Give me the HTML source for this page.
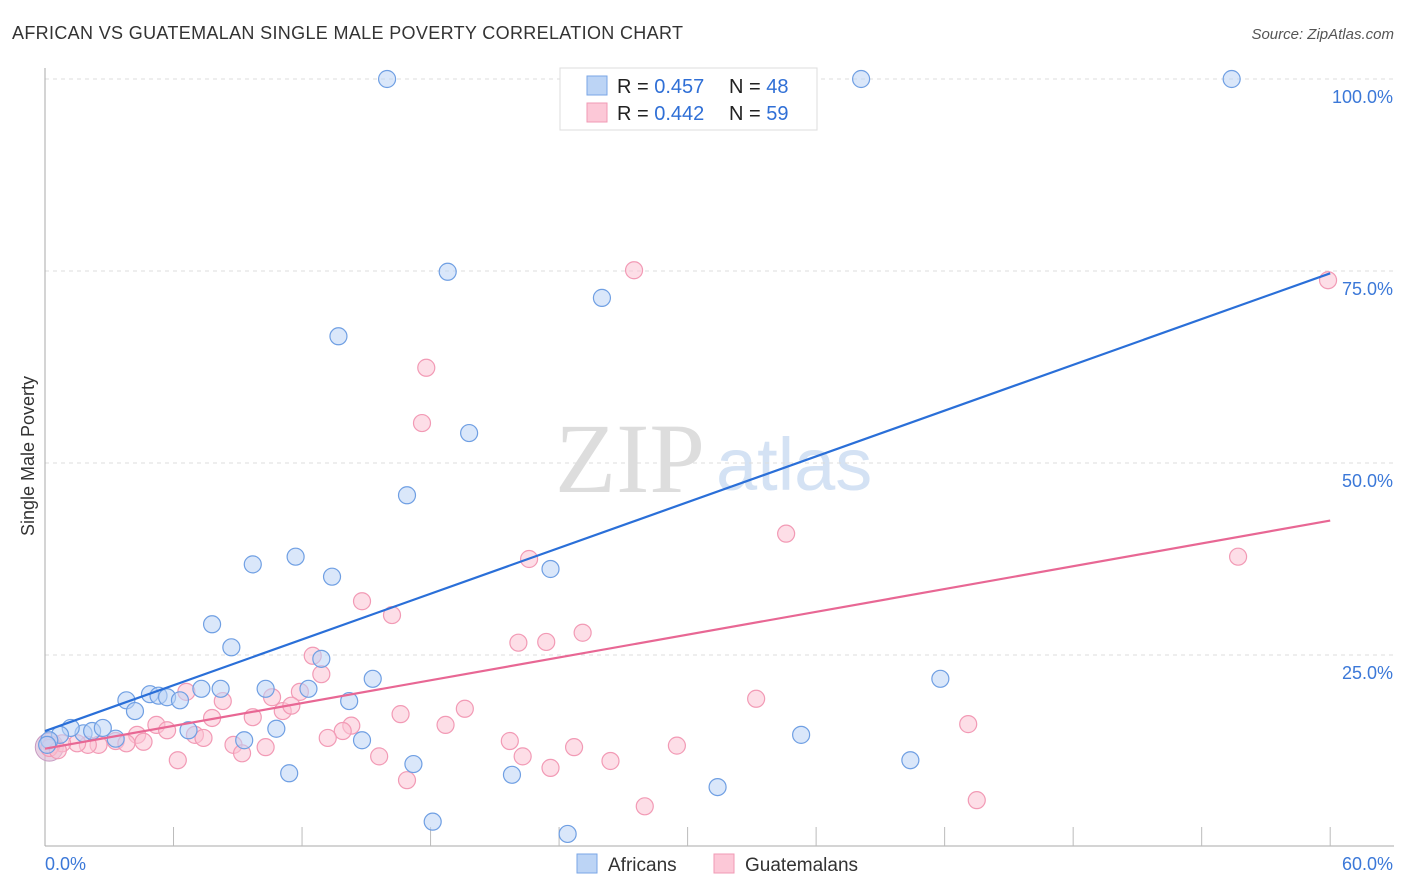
<!DOCTYPE html>
<html><head><meta charset="utf-8"><style>
body{margin:0;background:#fff;font-family:"Liberation Sans",sans-serif;}
svg{display:block}
</style></head><body>
<svg id="chart" width="1406" height="892" xmlns="http://www.w3.org/2000/svg">
<text x="12" y="39" font-size="18" fill="#333" textLength="671">AFRICAN VS GUATEMALAN SINGLE MALE POVERTY CORRELATION CHART</text>
<text x="1394" y="39" font-size="15" fill="#555" text-anchor="end" font-style="italic">Source: ZipAtlas.com</text>
<text x="555" y="492" font-size="100" fill="#ddd" font-family="Liberation Serif">ZIP</text>
<text x="716" y="490" font-size="74" fill="#d4e2f4">atlas</text>
<g id="grid"></g><g id="axes"></g><g id="pts"></g><g id="lines"></g>
<text transform="translate(34,456) rotate(-90)" font-size="18" fill="#333" text-anchor="middle">Single Male Poverty</text>
<g>
<rect x="560" y="68" width="257" height="62" fill="#fff" stroke="#ddd"/>
<rect x="587" y="76" width="20" height="19" fill="#bcd4f5" stroke="#7aa6e6"/>
<rect x="587" y="103" width="20" height="19" fill="#fcc8d7" stroke="#f09ab4"/>
<text x="617" y="93" font-size="20" fill="#222">R = <tspan fill="#2f6fd6">0.457</tspan><tspan x="729">N = </tspan><tspan fill="#2f6fd6">48</tspan></text>
<text x="617" y="120" font-size="20" fill="#222">R = <tspan fill="#2f6fd6">0.442</tspan><tspan x="729">N = </tspan><tspan fill="#2f6fd6">59</tspan></text>
</g>
<g>
<rect x="577" y="854" width="20" height="19" fill="#bcd4f5" stroke="#7aa6e6"/>
<text x="608" y="871" font-size="19" fill="#333">Africans</text>
<rect x="714" y="854" width="20" height="19" fill="#fcc8d7" stroke="#f09ab4"/>
<text x="745" y="871" font-size="19" fill="#333">Guatemalans</text>
</g>
</svg>
<script>
const yTicks=[25,50,75,100];
const yTickLabels=["25.0%","50.0%","75.0%","100.0%"];
const xTickLabels=["0.0%","60.0%"];
const blueX=[15.97,38.1,55.4,18.8,26.0,13.7,19.8,16.9,9.7,11.7,13.4,23.6,7.8,8.7,12.9,3.8,4.2,4.9,5.3,5.7,6.3,7.3,8.2,10.3,12.3,14.2,15.3,41.8,10.8,6.7,9.3,14.8,3.3,1.8,1.2,0.7,0.2,0.1,2.2,2.7,11.4,17.2,21.8,31.4,35.3,40.4,18.1,24.4];
const blueY=[100,100,100,74.9,71.5,66.5,53.9,45.8,36.8,37.8,35.2,36.2,29.0,26.0,24.5,19.1,17.7,19.9,19.7,19.5,19.1,20.6,20.6,20.6,20.6,19.0,21.9,21.9,15.4,15.2,13.9,13.9,14.1,14.8,15.5,14.6,13.9,13.3,15.1,15.5,9.6,10.8,9.4,7.8,14.6,11.3,3.3,1.7];
const pinkX=[59.9,27.5,17.8,17.6,34.6,55.7,22.6,14.8,16.2,25.1,22.1,23.4,12.5,12.9,10.6,11.9,8.3,33.2,6.6,11.1,11.5,5.2,7.8,9.7,16.6,19.6,18.7,14.3,13.9,13.2,7.0,5.7,4.3,3.3,3.8,2.5,2.0,1.5,0.8,0.3,4.6,7.4,8.8,9.2,10.3,15.6,21.7,22.3,24.7,29.5,26.4,23.6,6.2,16.9,28.0,43.5,43.1,0.2,0.6];
const pinkY=[73.8,75.1,62.4,55.2,40.8,37.8,37.5,32.0,30.2,27.9,26.6,26.7,24.9,22.5,19.5,20.2,19.0,19.3,20.2,17.7,18.4,15.9,16.8,16.9,17.3,18.0,15.9,15.8,15.1,14.2,14.6,15.2,14.6,13.8,13.5,13.3,13.3,13.5,13.5,13.3,13.7,14.2,13.3,12.2,13.0,11.8,13.8,11.8,13.0,13.2,11.2,10.3,11.3,8.7,5.3,6.1,16.0,12.9,12.6];
const blueTrend=[15.1,74.7];
const pinkTrend=[12.8,42.5];
const NS="http://www.w3.org/2000/svg";
const sx=v=>45+v*21.42, sy=v=>847-v*7.68;
function mk(tag,attrs,parent){const e=document.createElementNS(NS,tag);for(const k in attrs)e.setAttribute(k,attrs[k]);document.getElementById(parent).appendChild(e);return e;}
yTicks.forEach((t,i)=>{
 const g=mk('line',{x1:45,x2:1394,y1:sy(t),y2:sy(t),stroke:'#ddd','stroke-dasharray':'4,4'},'grid');
 
 
 const l=mk('text',{x:1393,y:sy(t)+24,'font-size':18,fill:'#3b78d8','text-anchor':'end'},'axes');
 l.textContent=yTickLabels[i];
 
 
});
let a=mk('line',{x1:45,x2:45,y1:68,y2:846,stroke:'#aaa'},'axes');


a=mk('line',{x1:45,x2:1394,y1:846,y2:846,stroke:'#aaa'},'axes');


for(let k=1;k<=10;k++){
 const t=mk('line',{x1:sx(k*6),x2:sx(k*6),y1:827,y2:846,stroke:'#bbb'},'axes');
 
 
}
[[0,'start',45],[60,'end',1393]].forEach((d,i)=>{
 const l=mk('text',{x:d[2],y:870,'font-size':18,fill:'#3b78d8','text-anchor':d[1]},'axes');
 l.textContent=xTickLabels[i];
 
 
});
function pts(xs,ys,fill,stroke,name){
 xs.forEach((x,i)=>{
  const c=mk('circle',{cx:sx(x),cy:sy(ys[i]),r:8.5,fill:fill,'fill-opacity':0.55,stroke:stroke,'stroke-width':1.2},'pts');
  
  
 });
}
let big=mk('circle',{cx:sx(0.2),cy:sy(13.0),r:14,fill:'#d9b3d0','fill-opacity':0.6,stroke:'#c79ac0'},'pts');


pts(pinkX,pinkY,'#fbc3d3','#f29ab5','guatemalan-point');
pts(blueX,blueY,'#bcd4f5','#6f9fe3','african-point');
let ln=mk('line',{x1:sx(0),y1:sy(blueTrend[0]),x2:sx(60),y2:sy(blueTrend[1]),stroke:'#2a6fd8','stroke-width':2.2},'lines');


ln=mk('line',{x1:sx(0),y1:sy(pinkTrend[0]),x2:sx(60),y2:sy(pinkTrend[1]),stroke:'#e86794','stroke-width':2.2},'lines');


</script>
</body></html>
